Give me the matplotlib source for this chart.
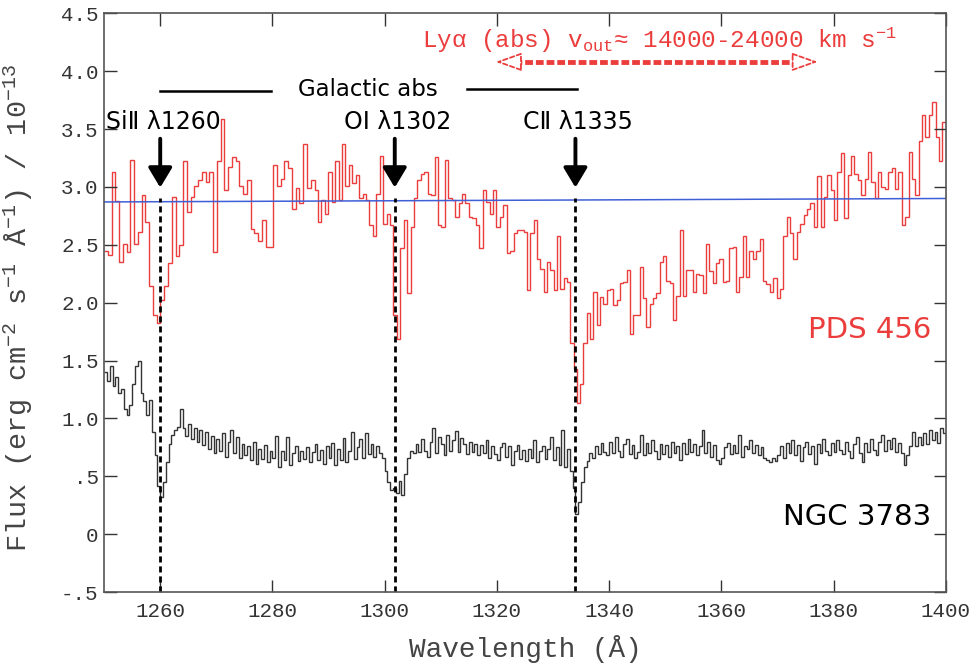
import numpy as np
import matplotlib
matplotlib.use("Agg")
from matplotlib import pyplot as plt

# PDS 456 (red) -- four pieces, each binned evenly between the break wavelengths
red_breaks = [1250.0, 1287.5, 1324.8, 1362.0, 1400.0]
red_seg1 = [2.45, 2.41, 3.13, 2.88, 2.35, 2.51, 2.44, 3.23, 2.51, 2.61,
            2.93, 2.70, 2.14, 1.89, 1.82, 2.02, 2.14, 2.34, 2.91, 2.40,
            2.50, 3.22, 2.78, 2.91, 3.01, 3.06, 3.13, 3.04, 3.13, 2.44,
            3.22, 3.59, 2.97, 3.17, 3.26, 3.22, 3.01, 2.94, 3.06, 2.64,
            2.60, 2.53, 2.71, 2.48, 2.48, 3.19, 3.01, 3.07, 3.22, 3.16,
            2.81, 2.99, 2.86, 3.37, 2.99, 3.06]
red_seg2 = [2.97, 2.70, 2.89, 2.77, 3.13, 2.87, 3.22, 2.89, 3.37, 3.01,
            3.19, 3.03, 3.10, 2.90, 2.94, 2.89, 2.67, 2.58, 2.94, 3.27,
            2.68, 2.77, 2.67, 1.89, 1.69, 2.47, 2.71, 2.08, 2.65, 2.90,
            3.06, 3.11, 3.13, 2.94, 2.93, 3.26, 2.67, 2.65, 3.23, 2.90,
            2.89, 2.74, 2.86, 2.94, 2.86, 2.74, 2.73, 2.67, 2.47, 2.97,
            2.87, 2.77, 2.97, 2.65, 2.74, 2.84, 2.43, 2.45, 2.60, 2.63,
            2.63]
red_seg3 = [2.61, 2.11, 2.60, 2.71, 2.38, 2.29, 2.09, 2.35, 2.28, 2.11,
            2.58, 2.12, 2.21, 2.18, 1.65, 1.43, 1.13, 1.30, 1.65, 1.91,
            1.69, 2.09, 1.81, 2.05, 1.99, 2.11, 2.12, 1.98, 2.02, 2.17,
            2.18, 2.28, 1.73, 1.89, 1.89, 2.31, 2.04, 1.79, 1.99, 2.04,
            2.08, 2.35, 2.40, 2.19, 2.17, 1.85, 2.06, 2.63, 2.06, 2.28,
            2.28, 2.09, 2.25, 2.24, 2.08, 2.51, 2.27, 2.17, 2.34, 2.38,
            2.18, 2.19, 2.47]
red_seg4 = [2.48, 2.09, 2.22, 2.58, 2.22, 2.45, 2.38, 2.45, 2.55, 2.19,
            2.16, 2.09, 2.21, 2.04, 2.12, 2.58, 2.74, 2.60, 2.38, 2.61,
            2.68, 2.76, 2.81, 2.86, 2.65, 3.09, 2.65, 2.91, 3.10, 2.97,
            2.71, 3.13, 3.29, 2.73, 3.10, 3.27, 3.11, 3.06, 2.93, 3.07,
            3.30, 3.04, 2.90, 3.13, 3.00, 2.98, 3.13, 3.16, 2.98, 3.13,
            2.67, 2.74, 3.30, 3.07, 2.93, 3.40, 3.62, 3.43, 3.62, 3.73,
            3.43, 3.22, 3.56]

# NGC 3783 (black), 0.5 A bins from 1250 to 1400
black_flux = [
    1.40, 1.32, 1.45, 1.28, 1.36, 1.22, 1.25, 1.08, 1.03, 1.12,
    1.30, 1.45, 1.50, 1.22, 1.15, 1.03, 1.16, 0.88, 0.68, 0.42,
    0.32, 0.45, 0.62, 0.78, 0.86, 0.90, 0.93, 1.08, 0.92, 0.85,
    0.95, 0.82, 0.92, 0.80, 0.90, 0.77, 0.88, 0.74, 0.85, 0.70,
    0.82, 0.72, 0.87, 0.67, 0.80, 0.90, 0.70, 0.84, 0.66, 0.78,
    0.68, 0.76, 0.64, 0.80, 0.61, 0.74, 0.65, 0.77, 0.62, 0.72,
    0.66, 0.85, 0.58, 0.72, 0.64, 0.84, 0.60, 0.70, 0.76, 0.63,
    0.72, 0.65, 0.75, 0.62, 0.71, 0.78, 0.64, 0.73, 0.61, 0.76,
    0.66, 0.79, 0.60, 0.74, 0.64, 0.83, 0.62, 0.72, 0.88, 0.65,
    0.75, 0.82, 0.66, 0.87, 0.69, 0.78, 0.67, 0.76, 0.70, 0.66,
    0.55, 0.45, 0.38, 0.40, 0.36, 0.46, 0.34, 0.52, 0.66, 0.72,
    0.70, 0.78, 0.71, 0.82, 0.72, 0.67, 0.80, 0.92, 0.70, 0.84,
    0.78, 0.68, 0.86, 0.72, 0.81, 0.89, 0.71, 0.83, 0.78, 0.69,
    0.80, 0.71, 0.78, 0.68, 0.77, 0.70, 0.81, 0.66, 0.76, 0.69,
    0.64, 0.75, 0.79, 0.67, 0.76, 0.60, 0.72, 0.77, 0.65, 0.73,
    0.63, 0.74, 0.66, 0.81, 0.62, 0.72, 0.76, 0.65, 0.74, 0.84,
    0.64, 0.75, 0.60, 0.90, 0.58, 0.74, 0.55, 0.40, 0.17, 0.28,
    0.45, 0.58, 0.63, 0.70, 0.66, 0.76, 0.69, 0.79, 0.71, 0.68,
    0.80, 0.70, 0.84, 0.72, 0.67, 0.78, 0.82, 0.69, 0.77, 0.66,
    0.71, 0.86, 0.68, 0.79, 0.70, 0.81, 0.72, 0.65, 0.78, 0.69,
    0.77, 0.67, 0.80, 0.70, 0.76, 0.64, 0.79, 0.69, 0.82, 0.71,
    0.78, 0.68, 0.76, 0.90, 0.70, 0.80, 0.67, 0.77, 0.64, 0.61,
    0.66, 0.75, 0.79, 0.69, 0.77, 0.70, 0.86, 0.67, 0.76, 0.74,
    0.81, 0.70, 0.77, 0.68, 0.75, 0.66, 0.64, 0.62, 0.66, 0.63,
    0.68, 0.76, 0.66, 0.79, 0.70, 0.81, 0.68, 0.77, 0.63, 0.75,
    0.80, 0.69, 0.76, 0.61, 0.78, 0.70, 0.82, 0.72, 0.68, 0.79,
    0.71, 0.81, 0.73, 0.69, 0.80, 0.72, 0.66, 0.78, 0.84, 0.70,
    0.62, 0.79, 0.71, 0.82, 0.73, 0.68, 0.80, 0.86, 0.72, 0.81,
    0.74, 0.83, 0.71, 0.79, 0.70, 0.60, 0.68, 0.76, 0.88, 0.76,
    0.84, 0.77, 0.87, 0.78, 0.90, 0.81, 0.88, 0.79, 0.92, 0.87]

# continuum level (blue), absorption lines, labels
cont_wave = [1250, 1400]
cont_flux = [2.87, 2.90]
line_wave = [1260.0, 1301.8, 1334.0]
line_names = ["Si\u2161 \u03bb1260", "O\u2160 \u03bb1302", "C\u2161 \u03bb1335"]
yticks = [-0.5, 0, 0.5, 1.0, 1.5, 2.0, 2.5, 3.0, 3.5, 4.0, 4.5]
ytick_labels = ["-.5", "0", ".5", "1.0", "1.5", "2.0", "2.5", "3.0", "3.5", "4.0", "4.5"]
xticks = [1260, 1280, 1300, 1320, 1340, 1360, 1380, 1400]
outflow_range = [1319.8, 1377.2]   # Ly-alpha outflow band

RED = "#ec3d3d"
MONO = "Liberation Mono"
plt.rcParams["mathtext.fontset"] = "custom"
plt.rcParams["mathtext.rm"] = MONO
plt.rcParams["mathtext.it"] = MONO
plt.rcParams["mathtext.default"] = "rm"

fig = plt.figure(figsize=(9.73, 6.63), dpi=100)
ax = fig.add_axes([0.107, 0.107, 0.865, 0.873])

# build red bin edges piece by piece
segs = [red_seg1, red_seg2, red_seg3, red_seg4]
red_edges = []
for i, s in enumerate(segs):
    red_edges.append(np.linspace(red_breaks[i], red_breaks[i + 1], len(s) + 1)[:-1])
red_edges = np.concatenate(red_edges + [[red_breaks[-1]]])
red_flux = np.concatenate(segs)
black_edges = np.linspace(1250, 1400, len(black_flux) + 1)

ax.stairs(red_flux, red_edges, baseline=None, color=RED, lw=1.0)
ax.stairs(black_flux, black_edges, baseline=None, color="#333333", lw=1.0)
ax.plot(cont_wave, cont_flux, color="#3f5fd6", lw=1.1)

for w, name in zip(line_wave, line_names):
    ax.plot([w, w], [-0.5, 2.9], color="k", lw=2, ls=(0, (2.2, 1.4)))
    ax.annotate("", xy=(w, 2.97), xytext=(w, 3.44),
                arrowprops=dict(arrowstyle="-|>,head_length=0.5,head_width=0.3",
                                color="k", lw=2.8, mutation_scale=24))
    ax.text(w + 0.5, 3.56, name, ha="center", va="center", fontsize=17)

ax.plot([1260, 1279.7], [3.825, 3.825], color="k", lw=1.8)
ax.plot([1314.6, 1334.2], [3.85, 3.85], color="k", lw=1.8)
ax.text(1297, 3.84, "Galactic abs", ha="center", va="center", fontsize=16.5)

ax.text(1349, 4.27, "Ly\u03b1 (abs) v$_{out}$\u2248 14000-24000 km s$^{-1}$",
        ha="center", va="center", fontsize=17.5, color=RED, family=MONO)

# thick dashed shaft with small hollow dashed heads
lo, hi = outflow_range
ax.plot([lo + 3.2, hi - 3.2], [4.08, 4.08], color=RED, lw=3.5, ls=(0, (1.6, 0.6)))
for tip, tail in [(lo, lo + 3.5), (hi, hi - 3.5)]:
    ax.annotate("", xy=(tip, 4.08), xytext=(tail, 4.08),
                arrowprops=dict(arrowstyle="-|>,head_length=0.9,head_width=0.32",
                                ec=RED, fc="white", lw=1.3, ls=(0, (2.5, 1.5)),
                                mutation_scale=18, shrinkA=0, shrinkB=0))

ax.text(1397.5, 1.76, "PDS 456", ha="right", va="center", fontsize=21, color=RED)
ax.text(1397.5, 0.15, "NGC 3783", ha="right", va="center", fontsize=21, color="k")

ax.set_xlim(1250, 1400)
ax.set_ylim(-0.5, 4.5)
ax.set_xticks(xticks)
ax.set_yticks(yticks)
ax.set_yticklabels(ytick_labels)
ax.tick_params(direction="in", length=9, width=1, top=True, right=True,
               labelsize=15, colors="#333333", pad=7)
ax.tick_params(axis="y", pad=4)
for lab in ax.get_xticklabels() + ax.get_yticklabels():
    lab.set_family(MONO)
for sp in ax.spines.values():
    sp.set_color("#555555")
    sp.set_linewidth(1.2)

ax.set_xlabel("Wavelength (\u00c5)", family=MONO, fontsize=20, color="#444444")
ax.set_ylabel("Flux (erg cm$^{-2}$ s$^{-1}$ \u00c5$^{-1}$) / 10$^{-13}$",
              family=MONO, fontsize=20.5, color="#444444")
ax.xaxis.set_label_coords(0.5, -0.075)
ax.yaxis.set_label_coords(-0.082, 0.49)

fig.savefig("out.png", dpi=100)
